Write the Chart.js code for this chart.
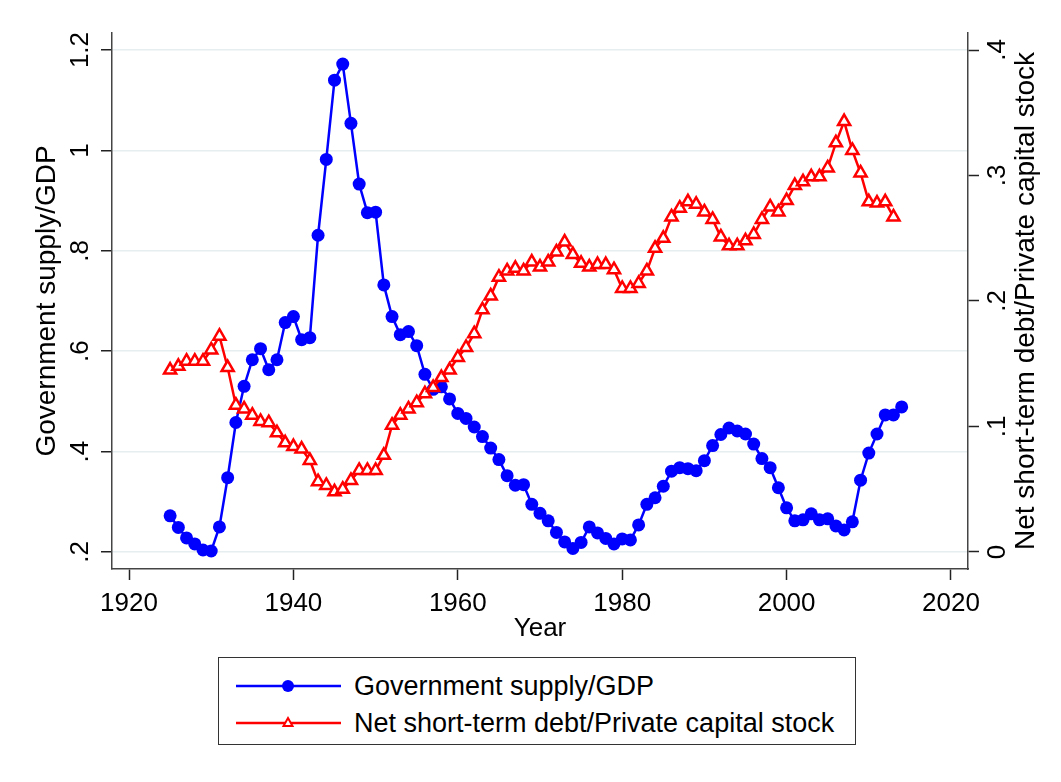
<!DOCTYPE html>
<html>
<head>
<meta charset="utf-8">
<title>Government supply and net short-term debt</title>
<script src="https://cdn.jsdelivr.net/npm/chart.js@4.4.1/dist/chart.umd.min.js"></script>
<style>
    html, body { margin: 0; padding: 0; background: #fff; }
    #wrap { position: relative; width: 1061px; height: 782px; }
    #legend {
        position: absolute; left: 218px; top: 657px; width: 636px; height: 86px;
        border: 1px solid #333; background: #fff;
        font-family: "Liberation Sans", Arial, sans-serif; font-size: 27px; color: #000;
    }
    .row { position: absolute; left: 0; height: 36px; display: flex; align-items: center; }
    .row canvas { margin-left: 17px; margin-right: 13px; }
</style>
</head>
<body>
<div id="wrap">
    <canvas id="chart" width="1061" height="782"></canvas>
    <div id="legend"></div>
</div>
<script>
// data
const years = [1925, 1926, 1927, 1928, 1929, 1930, 1931, 1932, 1933, 1934,
    1935, 1936, 1937, 1938, 1939, 1940, 1941, 1942, 1943, 1944,
    1945, 1946, 1947, 1948, 1949, 1950, 1951, 1952, 1953, 1954,
    1955, 1956, 1957, 1958, 1959, 1960, 1961, 1962, 1963, 1964,
    1965, 1966, 1967, 1968, 1969, 1970, 1971, 1972, 1973, 1974,
    1975, 1976, 1977, 1978, 1979, 1980, 1981, 1982, 1983, 1984,
    1985, 1986, 1987, 1988, 1989, 1990, 1991, 1992, 1993, 1994,
    1995, 1996, 1997, 1998, 1999, 2000, 2001, 2002, 2003, 2004,
    2005, 2006, 2007, 2008, 2009, 2010, 2011, 2012, 2013, 2014];

// Government supply/GDP, 1925-2014
const govSupply = [0.272, 0.249, 0.228, 0.216, 0.204, 0.202, 0.250, 0.348, 0.458, 0.530,
    0.583, 0.605, 0.563, 0.583, 0.657, 0.669, 0.623, 0.627, 0.831, 0.982,
    1.140, 1.172, 1.054, 0.933, 0.876, 0.877, 0.732, 0.669, 0.633, 0.639,
    0.611, 0.554, 0.524, 0.529, 0.505, 0.476, 0.466, 0.449, 0.430, 0.407,
    0.384, 0.352, 0.333, 0.334, 0.295, 0.277, 0.262, 0.239, 0.220, 0.207,
    0.219, 0.250, 0.238, 0.227, 0.216, 0.226, 0.224, 0.254, 0.295, 0.308,
    0.331, 0.361, 0.368, 0.366, 0.362, 0.382, 0.412, 0.434, 0.447, 0.441,
    0.435, 0.415, 0.386, 0.368, 0.328, 0.288, 0.262, 0.264, 0.276, 0.264,
    0.266, 0.252, 0.244, 0.260, 0.343, 0.397, 0.435, 0.473, 0.473, 0.489];

// Net short-term debt/Private capital stock, 1925-2013
const netDebt = [0.145, 0.148, 0.152, 0.152, 0.152, 0.161, 0.172, 0.147, 0.117, 0.114,
    0.109, 0.104, 0.103, 0.095, 0.087, 0.084, 0.082, 0.073, 0.056, 0.053,
    0.048, 0.050, 0.057, 0.065, 0.065, 0.065, 0.077, 0.101, 0.109, 0.114,
    0.119, 0.126, 0.131, 0.139, 0.145, 0.155, 0.163, 0.174, 0.193, 0.204,
    0.219, 0.224, 0.226, 0.224, 0.231, 0.227, 0.231, 0.239, 0.247, 0.237,
    0.230, 0.227, 0.229, 0.229, 0.225, 0.210, 0.210, 0.214, 0.224, 0.242,
    0.250, 0.267, 0.274, 0.279, 0.277, 0.271, 0.265, 0.251, 0.244, 0.244,
    0.248, 0.253, 0.265, 0.275, 0.271, 0.280, 0.292, 0.295, 0.299, 0.299,
    0.306, 0.326, 0.343, 0.320, 0.302, 0.279, 0.278, 0.279, 0.267];

const xTicks = [1920, 1940, 1960, 1980, 2000, 2020];
const leftTicks = [0.2, 0.4, 0.6, 0.8, 1, 1.2];
const leftTickLabels = [".2", ".4", ".6", ".8", "1", "1.2"];
const rightTicks = [0, 0.1, 0.2, 0.3, 0.4];
const rightTickLabels = ["0", ".1", ".2", ".3", ".4"];

const seriesNames = ["Government supply/GDP", "Net short-term debt/Private capital stock"];
const xTitle = "Year";
const leftTitle = "Government supply/GDP";
const rightTitle = "Net short-term debt/Private capital stock";

const FONT = '"Liberation Sans", Arial, sans-serif';
Chart.defaults.font.family = FONT;
Chart.defaults.color = "#000";

const axisColor = "#444";
const gridColor = "#e6eef0";

// stata style: right title reads bottom to top as well
const rightTitlePlugin = {
    id: "rightTitle",
    afterDraw(chart) {
        const s = chart.scales.y2;
        const area = chart.chartArea;
        const c = chart.ctx;
        c.save();
        c.translate(s.left + 58, (area.top + area.bottom) / 2);
        c.rotate(-Math.PI / 2);
        c.font = "28px " + FONT;
        c.fillStyle = "#000";
        c.textAlign = "center";
        c.textBaseline = "middle";
        c.fillText(rightTitle, 0, 0);
        c.restore();
    }
};

const chart = new Chart(document.getElementById("chart").getContext("2d"), {
    type: "line",
    data: {
        datasets: [{
            label: seriesNames[0],
            data: years.map((yr, i) => ({ x: yr, y: govSupply[i] })),
            yAxisID: "y",
            borderColor: "#0000ff",
            backgroundColor: "#0000ff",
            borderWidth: 2.5,
            pointStyle: "circle",
            pointRadius: 6.5,
            pointBorderWidth: 0,
            order: 1
        }, {
            label: seriesNames[1],
            data: netDebt.map((v, i) => ({ x: years[i], y: v })),
            yAxisID: "y2",
            borderColor: "#ff0000",
            backgroundColor: "#ffffff",
            pointBorderColor: "#ff0000",
            borderWidth: 2.5,
            pointStyle: "triangle",
            pointRadius: 7,
            pointBorderWidth: 2.5,
            order: 0
        }]
    },
    options: {
        responsive: false,
        animation: false,
        layout: { padding: { top: 33, left: 0, right: 0, bottom: 133 } },
        plugins: {
            legend: { display: false },
            tooltip: { enabled: false }
        },
        scales: {
            x: {
                type: "linear",
                min: 1917.93,
                max: 2022.07,
                afterBuildTicks: s => { s.ticks = xTicks.map(v => ({ value: v })); },
                afterFit: s => { s.height = 80; },
                ticks: { callback: v => String(v), font: { size: 26 }, padding: 8, maxRotation: 0 },
                grid: { drawOnChartArea: false, tickLength: 11, tickColor: "#222", tickWidth: 1.5 },
                border: { color: axisColor, width: 1.5 },
                title: { display: true, text: xTitle, font: { size: 26 }, padding: { top: 0, bottom: 5 } }
            },
            y: {
                position: "left",
                min: 0.1661,
                max: 1.2339,
                afterBuildTicks: s => { s.ticks = leftTicks.map(v => ({ value: v })); },
                afterFit: s => { s.width = 112; },
                ticks: {
                    callback: (v, i) => leftTickLabels[i],
                    font: { size: 26 }, minRotation: 90, maxRotation: 90,
                    crossAlign: "center", padding: 2
                },
                grid: { color: gridColor, lineWidth: 1.5, tickLength: 11, tickColor: "#222", tickWidth: 1.5 },
                border: { color: axisColor, width: 1.5 },
                title: { display: true, text: leftTitle, font: { size: 28 }, padding: { top: 30, bottom: 0 } }
            },
            y2: {
                position: "right",
                min: -0.01355,
                max: 0.41355,
                afterBuildTicks: s => { s.ticks = rightTicks.map(v => ({ value: v })); },
                afterFit: s => { s.width = 93; },
                ticks: {
                    callback: (v, i) => rightTickLabels[i],
                    font: { size: 26 }, minRotation: 90, maxRotation: 90,
                    crossAlign: "center", padding: 8
                },
                grid: { drawOnChartArea: false, tickLength: 11, tickColor: "#222", tickWidth: 1.5 },
                border: { color: axisColor, width: 1.5 }
            }
        }
    },
    plugins: [rightTitlePlugin]
});

// legend: line with marker, stacked rows like stata
function legendIcon(ds) {
    const cv = document.createElement("canvas");
    cv.width = 105;
    cv.height = 24;
    const c = cv.getContext("2d");
    c.strokeStyle = ds.borderColor;
    c.lineWidth = 2.5;
    c.beginPath();
    c.moveTo(0, 12);
    c.lineTo(105, 12);
    c.stroke();
    if (ds.pointStyle === "circle") {
        c.fillStyle = ds.backgroundColor;
        c.beginPath();
        c.arc(52, 12, 6, 0, Math.PI * 2);
        c.fill();
    } else {
        c.fillStyle = "#fff";
        c.strokeStyle = ds.pointBorderColor;
        c.lineWidth = 2;
        c.beginPath();
        c.moveTo(52, 7);
        c.lineTo(56.5, 15);
        c.lineTo(47.5, 15);
        c.closePath();
        c.fill();
        c.stroke();
    }
    return cv;
}

const legendBox = document.getElementById("legend");
chart.data.datasets.forEach((ds, i) => {
    const row = document.createElement("div");
    row.className = "row";
    row.style.top = (10 + i * 37) + "px";
    row.appendChild(legendIcon(ds));
    const span = document.createElement("span");
    span.textContent = ds.label;
    row.appendChild(span);
    legendBox.appendChild(row);
});
</script>
</body>
</html>
